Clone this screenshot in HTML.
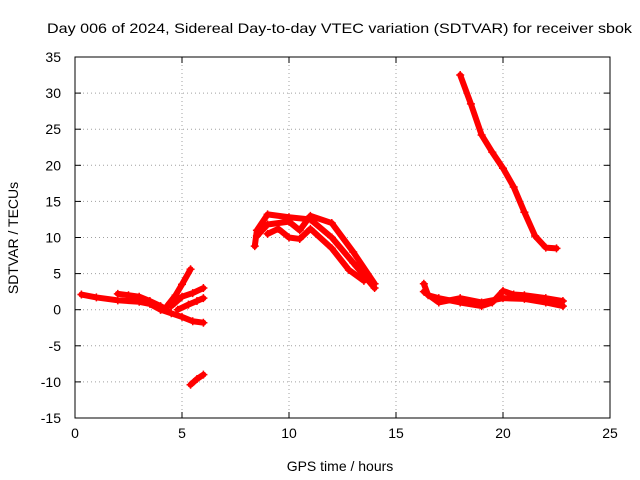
<!DOCTYPE html>
<html><head><meta charset="utf-8"><style>
body{margin:0;background:#fff;}
svg{display:block;font-family:"Liberation Sans",sans-serif;}
</style></head><body>
<svg id="chart" width="640" height="480">
<text x="47" y="33" font-size="14" textLength="585" lengthAdjust="spacingAndGlyphs">Day 006 of 2024, Sidereal Day-to-day VTEC variation (SDTVAR) for receiver sbok</text>
<text x="340" y="471" text-anchor="middle" font-size="14">GPS time / hours</text>
<text transform="translate(18,238) rotate(-90)" text-anchor="middle" font-size="14">SDTVAR / TECUs</text>
<g id="grid"></g><g id="series"></g><g id="axes"></g>
</svg>
<script>
const xTicks=[0,5,10,15,20,25];
const yTicks=[-15,-10,-5,0,5,10,15,20,25,30,35];
const trackA=[[0.3,2.1],[1,1.7],[2,1.3],[3,1.1],[3.5,0.8],[4,0]];
const trackA2=[[2,2.2],[2.5,2],[3,1.8],[3.5,1.2],[4,0.5],[4.3,0]];
const trackB1=[[4,0],[4.5,-0.5],[5,-1],[5.5,-1.6],[6,-1.8]];
const trackB2=[[4.3,0.5],[4.7,2],[5,3.5],[5.4,5.6]];
const trackB3=[[4.5,0.5],[5,1.8],[5.5,2.3],[6,3]];
const trackB4=[[4.8,0],[5.3,0.7],[5.7,1.2],[6,1.6]];
const trackC=[[5.4,-10.4],[5.7,-9.6],[6,-9]];
const trackD1=[[8.4,8.8],[8.5,11],[9,13.2],[10,12.8],[11,12.5],[12,10],[13,6.5],[14,3]];
const trackD2=[[8.5,10.2],[9,11.8],[10,12.2],[10.5,11],[11,13],[12,12],[13,8],[14,3.6]];
const trackD3=[[9,10.5],[9.5,11.2],[10,10],[10.5,9.8],[11,11.2],[12,8.5],[12.8,5.5],[13.5,4]];
const trackE=[[18,32.5],[18.5,28.5],[19,24.2],[19.5,21.8],[20,19.6],[20.5,17],[21,13.5],[21.5,10.2],[22,8.6],[22.5,8.5]];
const trackF1=[[16.3,3.6],[16.5,2],[17,1.6],[18,1],[19,0.5],[19.5,1],[20,2.6],[20.5,2.1],[21,2],[22,1.6],[22.8,1.2]];
const trackF2=[[16.3,2.5],[17,1],[18,1.6],[19,1],[20,1.6],[21,1.5],[22,1],[22.8,0.5]];
const tracks=[trackA,trackA2,trackB1,trackB2,trackB3,trackB4,trackC,trackD1,trackD2,trackD3,trackE,trackF1,trackF2];
const X0=75,X1=610,Y0=418,Y1=57;
const sx=v=>X0+(v-0)/25*(X1-X0);
const sy=v=>Y0-(v+15)/50*(Y0-Y1);
const NS='http://www.w3.org/2000/svg';
function mk(t,a,p){const e=document.createElementNS(NS,t);for(const k in a)e.setAttribute(k,a[k]);p.appendChild(e);return e;}
const grid=document.getElementById('grid'),axes=document.getElementById('axes'),ser=document.getElementById('series');
xTicks.forEach(t=>{const x=sx(t);
 if(t>0&&t<25){const g=mk('line',{x1:x,x2:x,y1:Y1,y2:Y0,stroke:'#a0a0a0','stroke-dasharray':'1,3'},grid);
 
 }
 mk('line',{x1:x,x2:x,y1:Y0,y2:Y0-6,stroke:'#000'},axes);
 mk('line',{x1:x,x2:x,y1:Y1,y2:Y1+6,stroke:'#000'},axes);
 const l=mk('text',{x:x,y:Y0+20,'text-anchor':'middle','font-size':14},axes);l.textContent=t;
 
 });
yTicks.forEach(t=>{const y=sy(t);
 if(t>-15&&t<35){const g=mk('line',{x1:X0,x2:X1,y1:y,y2:y,stroke:'#a0a0a0','stroke-dasharray':'1,3'},grid);
 
 }
 mk('line',{x1:X0,x2:X0+6,y1:y,y2:y,stroke:'#000'},axes);
 mk('line',{x1:X1,x2:X1-6,y1:y,y2:y,stroke:'#000'},axes);
 const l=mk('text',{x:X0-14,y:y+5,'text-anchor':'end','font-size':14},axes);l.textContent=t;
 
 });
const fr=mk('rect',{x:X0,y:Y1,width:X1-X0,height:Y0-Y1,fill:'none',stroke:'#000'},axes);


tracks.forEach((tr,i)=>{
 const pl=mk('polyline',{points:tr.map(p=>sx(p[0])+','+sy(p[1])).join(' '),fill:'none',stroke:'#ff0000','stroke-width':6,'stroke-linejoin':'round','stroke-linecap':'round'},ser);
 
 
 tr.forEach(p=>{const x=sx(p[0]),y=sy(p[1]);
  mk('path',{d:`M${x-4},${y}H${x+4}M${x},${y-4}V${y+4}`,stroke:'#ff0000','stroke-width':1.5},ser);});
});
</script>
</body></html>
